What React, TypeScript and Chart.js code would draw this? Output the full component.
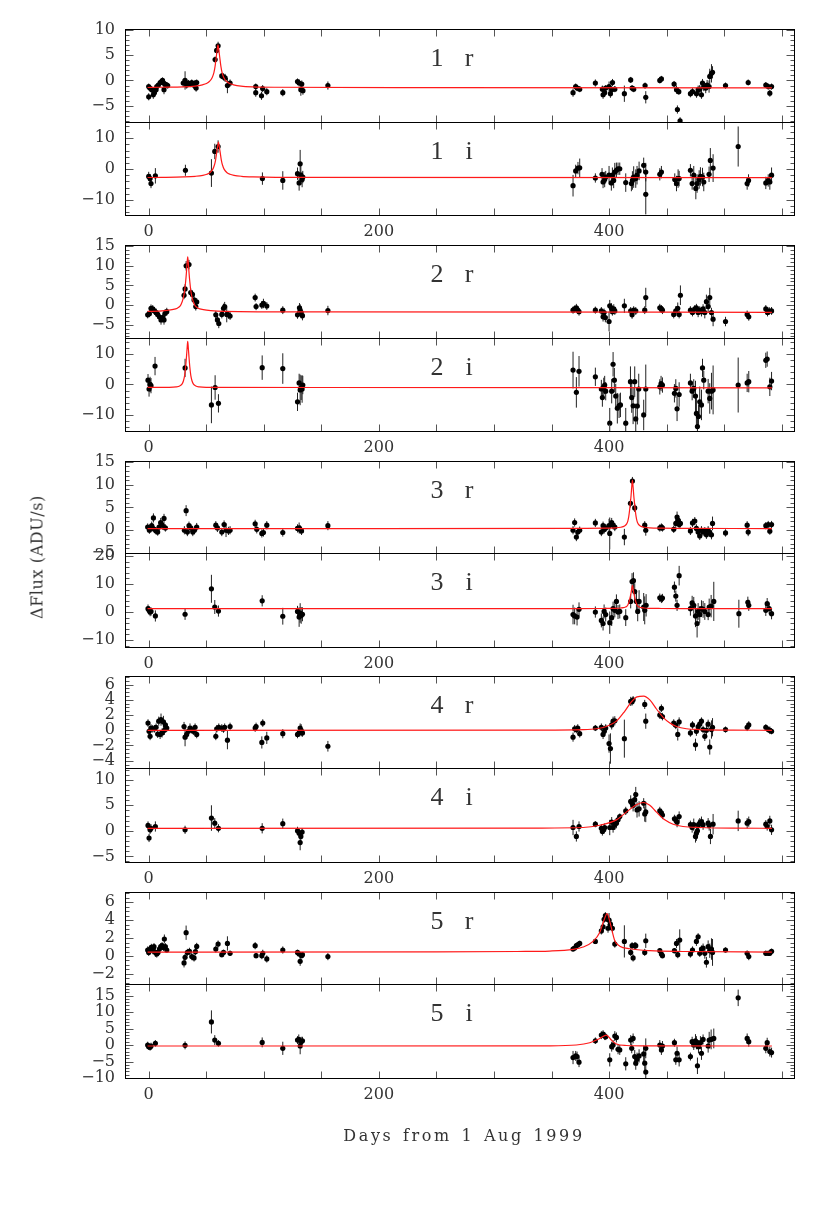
import React, { useEffect, useRef } from "react";
import { Chart, registerables } from "chart.js";

Chart.register(...registerables);

// ---------- observations: [day, deltaFlux, error] ----------
const obs1r: number[][] = [
  [0,-1.2,0.6],[0,-3.2,0.7],[1,-1.5,0.6],[2.6,-1.8,0.7],[4,-2.8,0.8],[5,-2.4,0.7],[6.4,-1.8,0.6],[7,-1.2,0.6],[8.4,-0.9,0.6],[10,-0.4,0.6],[11.3,-0.2,0.6],[12,0,0.6],[12.8,-0.5,0.7],[13.3,-1.8,0.9],[14.2,-0.7,0.6],[15.6,-0.9,0.6],[16.5,-1.0,0.6],
  [30,-0.5,0.8],[31.6,0,1.8],[33,-0.9,0.7],[34.5,-0.5,0.6],[36,-0.7,0.6],[37.4,-0.4,0.6],[39,-0.9,0.7],[40.3,-0.5,0.6],[41.2,-1.5,0.7],[41.7,-0.4,0.6],
  [57.7,4.1,0.6],[59,5.9,0.7],[60.3,6.8,0.8],[63.5,0.9,0.6],[65,0.7,0.7],[66.4,0.5,0.8],[68.4,-1.0,1.5],[70.7,-0.5,0.7],
  [93,-1.2,0.6],[93,-2.4,0.8],[98,-3.0,0.8],[99,-1.6,0.7],[102.6,-2.2,0.7],[116.5,-2.4,0.7],[129.3,-0.2,0.6],[130.7,-0.5,0.7],[132.2,-1.8,1.2],[133,-0.7,0.7],[134,-2.0,0.8],[155.7,-1.0,0.8],
  [368.7,-2.4,0.8],[371,-1.2,0.6],[372.2,-1.5,0.6],[374.5,-1.7,0.6],[388.1,-0.5,0.7],[394.2,-1.7,0.7],[394.8,-2.8,0.8],[396.2,-2.4,0.7],[397.1,-1.5,0.6],[400,-1.2,1.0],[401.2,-2.6,0.8],[402.3,-1.8,0.7],[403,-0.4,0.7],[405,-1.7,0.6],[413.3,-2.6,1.6],[418.8,0.1,0.6],[420,-1.5,0.6],[421.4,-1.7,0.6],[431.3,-1.0,0.6],[431.9,-3.3,1.2],[444.1,0,0.6],[445.5,0.3,0.6],[456.5,-0.7,0.6],[458.6,-1.8,0.8],[459.4,-5.7,0.8],[460.6,-2.2,0.6],[461.7,-7.9,0.7],[470.7,-2.6,0.7],[472.5,-2.2,0.7],[476,-2.6,0.8],[477.4,-1.8,0.8],[478.8,-1.7,0.8],[480.3,-2.8,0.8],[481.2,-0.5,0.8],[482.3,-1.2,0.9],[484,-1.5,1.0],[485.2,-0.9,1.0],[486.9,-1.2,1.2],[487.5,0.8,1.5],[489,1.4,1.8],[489.9,1.6,1.2],[501.2,-1.0,0.6],[520.9,-0.4,0.6],[536.2,-0.9,0.6],[538.3,-1.2,0.6],[539.7,-2.5,0.7],[541.2,-1.2,0.6],
];
const obs1i: number[][] = [
  [0,-2.4,1.5],[1.2,-3.1,1.5],[2,-4.7,1.5],[5.8,-2.2,2.5],[31.9,-0.4,1.8],[54.5,-1.3,4.5],[57.4,5.7,2.5],[60.3,7.3,2.0],[98.8,-3.1,2.0],[116.5,-3.7,3.0],[129.3,-1.5,2.0],[130.7,-4.5,2.5],[131.6,1.7,4.5],[132.2,-2.0,3.0],[133.3,-3.4,2.5],[133.9,-2.6,2.0],
  [368.7,-5.4,3.5],[371,-0.6,2.0],[373,0.3,2.0],[374.5,0.4,3.0],[388.1,-2.9,1.5],[393.9,-1.7,2.0],[394.8,-4.2,2.0],[396.2,-3.4,2.5],[397.1,-2.6,2.0],[400,-2.0,3.0],[402,-4.5,2.5],[402.9,-2.0,2.5],[404,-3.7,2.5],[405,-1.0,3.0],[406.4,-0.4,2.5],[407.8,0.1,2.0],[409.3,0.1,2.0],[414.5,-4.4,3.0],[419.4,-4.7,2.5],[420.3,-3.7,3.0],[421.4,-2.6,3.5],[423.2,-3.1,3.0],[424.3,-2.0,3.0],[426.1,-0.6,3.0],[430.1,1.2,2.5],[431.9,-1.0,3.0],[431.9,-8.2,6.5],[444.1,-1.7,2.0],[445.5,-1.0,2.0],[457.1,-3.4,2.0],[458.6,-4.7,2.5],[460,-3.1,3.0],[460.9,-3.1,2.5],[470.7,-0.4,2.0],[472.2,-4.7,2.0],[473.6,-2.0,3.0],[475.4,-6.3,3.5],[476.5,-4.7,3.0],[478.3,-3.4,3.0],[479.4,-2.4,3.0],[481.2,-2.6,3.0],[482.3,-4.2,3.0],[486.9,-1.7,2.5],[488,2.8,4.0],[490.4,0.3,4.5],[512.2,7.3,6.5],[520,-4.7,2.0],[521.2,-3.7,2.0],[536.2,-4.5,2.0],[538.3,-3.7,2.0],[539.7,-4.2,2.5],[541.2,-2.0,2.5],
];
const obs2r: number[][] = [
  [-0.9,-2.5,0.9],[0.6,-2.2,0.9],[2,-0.85,1.0],[3.5,-1.0,1.0],[5,-1.5,1.0],[6.4,-1.9,1.0],[7.8,-2.4,1.0],[9.3,-3.0,1.0],[10.7,-3.8,1.2],[12.2,-3.2,1.0],[13.3,-3.8,1.2],[14.2,-2.1,1.0],[15.7,-1.7,1.0],
  [30.7,2.5,1.0],[31.6,4.1,1.2],[32.5,10,1.2],[35,10.3,1.2],[36.5,3.2,1.0],[38,2.7,1.0],[39.4,1.3,1.0],[40.9,-0.4,1.0],[41.7,0.8,1.0],
  [58.3,-2.5,1.0],[59.7,-3.8,1.0],[60.9,-4.7,1.2],[63.5,-2.4,1.0],[65,-0.85,1.2],[66,-0.4,1.2],[67.8,-2.4,2.0],[69.3,-2.5,1.0],[70.7,-2.8,1.0],
  [92.5,1.9,1.0],[93.3,-0.4,0.9],[98.3,0,1.0],[99.7,0.4,1.2],[102.6,-0.25,1.0],[116.5,-1.3,1.0],[129.3,-2.5,1.0],[131,-0.7,1.2],[131.6,-1.3,1.5],[132.5,-1.9,1.5],[133.6,-2.7,1.2],[155.7,-1.4,1.2],
  [368.7,-1.3,0.9],[370.1,-1.0,0.9],[371.6,-0.7,1.0],[372.8,-1.3,1.0],[373.9,-1.7,1.0],[388.1,-1.3,0.9],[393.3,-1.5,1.0],[394.8,-3.0,1.2],[395.7,-1.9,1.0],[396.8,-3.2,1.2],[400,-4.2,2.5],[400.6,-0.2,1.5],[402,-0.7,1.2],[402.9,-1.7,1.0],[404.1,-1.0,1.2],[405,-1.5,1.0],[413.3,-0.2,1.8],[418.8,-1.5,1.0],[420,-2.5,1.0],[421.4,-1.3,1.0],[423.2,-1.5,1.0],[431,-1.3,1.0],[431.9,1.9,2.5],[444.1,-0.7,1.0],[445.5,-1.0,1.0],[446.4,-1.3,1.0],[456.2,-2.4,1.0],[458,-1.5,1.2],[459.7,-0.85,1.5],[460.9,-2.4,1.0],[462,2.5,2.5],[470.7,-1.3,1.0],[472.5,-1.9,1.0],[474.5,-1.0,1.0],[475.9,-0.7,1.0],[477.4,-1.9,1.2],[478.8,-1.3,1.0],[480.3,-1.7,1.2],[481.7,-1.0,1.2],[483.2,-1.9,1.5],[484.6,0.85,1.8],[486.1,-0.4,1.5],[487.5,1.9,2.5],[489,-1.9,1.2],[490.4,-3.6,1.8],[501.2,-4.2,1.2],[520,-2.4,1.0],[521.4,-3.0,1.0],[536.2,-1.0,1.0],[537.7,-1.9,1.0],[539.1,-1.5,1.0],[541.2,-1.5,1.0],
];
const obs2i: number[][] = [
  [-0.6,1.4,2.0],[0.3,-1.5,2.5],[1.2,0,2.5],[2,-0.4,2.5],[5.5,6.0,3.0],[31.6,5.4,3.0],[54.5,-6.7,6.0],[57.7,-1.0,4.0],[60.6,-6.2,3.0],[98.6,5.5,4.0],[116.5,5.2,5.0],[129.3,-5.7,3.0],[130.7,0.5,3.0],[131.6,-1.8,5.0],[132.5,-1.1,4.0],[133.3,-1.5,4.5],[133.9,-0.2,3.0],
  [368.7,4.7,6.0],[371.6,-2.6,5.0],[373.9,4.3,5.0],[388.1,2.5,3.0],[393.3,-1.5,3.0],[394.2,-4.3,3.0],[395.4,-0.8,3.0],[396.2,-0.2,3.0],[397.1,-2.2,3.0],[400.6,-12.7,5.0],[402.3,-2.2,4.0],[403.5,6.6,4.0],[404.6,1.4,4.0],[405.8,-3.8,4.0],[407.2,-7.8,5.0],[408.7,-7.0,4.0],[409.9,-6.7,4.0],[414.5,-12.7,5.0],[418.6,0.9,5.0],[419.7,-4.3,5.0],[420.9,-7.0,6.0],[422.3,0.9,5.0],[423.2,-11.3,5.0],[424.6,-7.1,6.0],[425.8,-1.5,5.0],[430.1,-10,5.0],[431.9,-1.5,8.0],[444.1,-0.8,2.5],[445.2,0.3,2.5],[446.4,-0.2,2.5],[456.8,-2.9,3.0],[458,-1.3,3.0],[459.1,-8.0,4.0],[460.9,-3.3,4.0],[470.7,0.5,3.0],[472.2,-2.2,3.0],[473.6,-1.3,3.0],[475.1,-3.8,5.0],[475.9,-9.5,5.0],[476.8,-13.8,4.0],[477.7,-10.5,4.0],[478.8,-5.7,5.0],[480.3,-6.7,5.0],[481.2,5.4,3.0],[482.3,1.4,3.0],[486.1,-2.2,4.0],[487.5,-4.6,5.0],[489,-2.2,6.0],[490.4,-1.8,8.0],[512.2,-0.2,9.0],[520,0.5,3.0],[521.4,0.9,3.5],[536.2,7.9,2.5],[537.4,8.3,2.5],[539.7,-0.8,3.0],[541.2,1.1,3.0],
];
const obs3r: number[][] = [
  [-0.9,0.7,0.8],[0.6,0,0.8],[1.4,0.5,0.8],[2.6,1.0,0.9],[4.1,2.7,1.0],[4.9,0.2,0.8],[6.4,-0.15,0.8],[7.8,-0.4,0.8],[9,0.7,0.9],[10.4,1.7,1.0],[11.9,1.1,1.0],[13.3,2.6,1.0],[14.5,0.5,0.8],
  [31,0,0.9],[32.5,4.3,1.2],[33.6,-0.4,0.9],[35,1.0,0.9],[36.5,0.5,0.9],[38.3,-0.4,0.9],[39.7,0,0.9],[41.7,0.7,0.9],
  [58.3,1.1,0.9],[59.7,0.5,0.9],[63.5,-0.4,0.9],[65.5,1.25,0.9],[67.2,0,1.5],[69.3,-0.15,0.9],[70.7,0,0.9],
  [92.5,1.4,0.9],[93.9,0.2,0.9],[98.3,-0.7,0.9],[99.7,-0.5,0.9],[102.6,1.1,0.9],[116.5,-0.5,0.9],[129.3,0.4,0.9],[130.7,0.5,1.2],[131.6,0.15,0.9],[132.8,-0.15,0.9],[155.7,1.0,1.0],
  [368.7,0,0.9],[370.1,1.7,0.9],[371.6,-1.5,0.9],[372.8,-0.4,0.9],[374.5,0,0.8],[388.1,1.6,0.9],[393.3,-0.4,0.9],[394.8,1.0,0.9],[395.9,0.2,0.9],[397.1,0.5,0.9],[400,1.0,1.5],[400.6,-0.7,3.5],[402.3,1.7,1.0],[403.5,1.1,0.9],[405,0.7,0.9],[413.3,-1.5,1.8],[418.6,5.9,0.9],[420.3,10.8,0.9],[422.3,4.9,0.9],[431,1.1,0.9],[431.9,0,1.2],[444.1,0.5,0.8],[445.5,0.7,0.8],[446.4,0.5,0.8],[456.2,0.2,0.8],[458,1.5,1.0],[459.1,2.9,1.2],[460,2.2,1.0],[460.9,1.25,1.0],[462,1.5,0.9],[470.7,-0.15,0.9],[472.5,1.6,0.9],[474.5,2.0,0.9],[475.9,0.4,0.9],[477.4,-0.4,0.9],[478.8,-1.25,0.9],[480.3,0,0.9],[481.7,-0.4,0.9],[483.2,-0.2,0.9],[484.6,-1.0,0.9],[486.1,0,0.9],[487.5,-0.5,1.0],[489,-1.0,1.0],[489.9,1.5,1.5],[501.2,-0.6,0.8],[520,1.1,0.9],[520.9,-0.4,0.9],[536.2,1.0,0.8],[538.3,1.25,0.8],[539.7,-0.2,0.8],[541.2,1.25,0.8],
];
const obs3i: number[][] = [
  [-0.6,1.2,1.5],[0.3,0.6,1.5],[1.2,0,1.5],[2,0.2,1.5],[5.8,-1.4,2.0],[31.6,-0.8,2.0],[54.5,8.3,5.0],[57.4,1.8,2.5],[60.6,0.35,2.0],[98.6,4.0,2.0],[116.5,-1.5,3.0],[129.3,0.2,2.0],[130.7,-1.8,3.5],[131.6,-0.35,3.5],[132.5,-1.2,3.0],[133.6,-0.8,2.5],
  [368.7,-0.9,3.5],[370.1,-1.4,3.0],[372.2,-1.8,3.0],[373.9,0.95,2.5],[388.1,0,2.0],[393.3,-3.0,2.5],[394.8,-4.1,2.5],[395.7,0.2,2.5],[397.1,-0.9,2.5],[400.6,-3.8,4.0],[402.3,-2.0,3.0],[403.5,1.2,2.5],[405,0.6,2.5],[406.4,3.8,2.5],[407.8,0,2.5],[409.3,0.2,2.5],[414.5,-2.0,3.0],[418.8,3.8,2.5],[420,10.9,3.0],[421.2,11.2,3.0],[422.3,7.3,3.0],[423.8,3.8,4.0],[424.9,0.2,3.5],[426.1,3.8,4.0],[430.1,1.8,5.0],[431,0.6,5.0],[432.2,2.4,4.0],[444.1,5.1,1.5],[445.5,4.7,1.5],[446.4,5.0,1.5],[456.8,8.9,2.0],[458,5.7,2.0],[459.1,2.4,2.0],[460.9,13.0,3.5],[470.7,1.2,2.5],[472.2,3.3,2.5],[473.6,2.4,3.0],[475.1,-1.4,4.0],[476.5,-4.1,5.0],[477.4,0.2,3.0],[478.8,-0.9,3.0],[480.3,1.2,3.0],[481.7,0.95,3.0],[483.2,0.2,3.0],[486.1,-0.9,2.0],[487,1.8,3.0],[488.7,2.1,4.0],[491,3.8,7.0],[512.8,-0.6,5.0],[520.6,3.5,2.0],[521.4,2.4,2.0],[536.2,0.6,2.0],[537.4,3.0,2.0],[539.1,1.2,2.0],[541.2,-0.6,2.0],
];
const obs4r: number[][] = [
  [-0.6,0.95,0.5],[0.3,-0.13,0.5],[1.2,-0.8,0.5],[2,0.3,0.5],[3.5,0.2,0.5],[5,0.2,0.5],[6.4,0.4,0.5],[7.8,-0.5,0.5],[8.7,1.2,0.6],[9.9,-0.55,0.6],[10.7,1.4,0.8],[11.6,-0.35,0.6],[12.8,1.1,0.8],[13.6,0,0.6],[14.5,0.7,0.5],[15.7,0.3,0.5],
  [30.7,0.5,0.6],[31.6,-0.9,1.2],[33,-0.55,0.6],[34.5,-0.13,0.5],[35.9,0.3,0.6],[37.4,0.1,0.5],[38.8,-0.13,0.5],[40.3,0.4,0.5],[41.7,-0.55,0.5],
  [58.3,-0.8,0.5],[59.1,0.2,0.5],[60.9,0.4,0.5],[63.5,0.3,0.5],[65,0.17,0.5],[66,0.4,0.5],[68.4,-1.3,1.2],[70.7,0.5,0.5],
  [92.5,0.3,0.5],[93.3,0.5,0.5],[98.3,-1.6,0.8],[99.1,0.95,0.5],[102.6,-1.0,0.8],[116.5,-0.45,0.6],[129.3,-0.55,0.5],[130.7,-0.35,0.5],[131.6,0.3,0.6],[132.5,0,0.8],[133.6,-0.35,0.5],[155.7,-2.1,0.7],
  [368.7,-0.9,0.6],[370.1,0.2,0.5],[371.6,0.1,0.5],[372.8,0.3,0.5],[374.5,-0.45,0.5],[388.1,0.3,0.4],[393.3,0.4,0.5],[394.8,-0.55,0.6],[395.9,-0.13,0.5],[397.1,0.3,0.5],[400,-1.75,1.2],[401.2,-2.4,2.0],[402.3,0.7,0.6],[403.5,1.2,0.6],[405,1.25,0.6],[413.3,-1.1,2.5],[418.8,3.8,0.6],[420,3.75,0.5],[420.9,4.0,0.5],[431,3.4,0.6],[431.9,1.2,1.0],[444.1,2.0,0.5],[445.5,2.9,0.5],[446.4,1.8,0.5],[456.2,0.95,0.5],[458,0.65,0.5],[459.7,-0.55,0.8],[460.9,1.1,0.6],[470.7,-0.35,0.5],[472.5,0.7,0.5],[475.1,-1.9,0.8],[475.9,-0.13,0.6],[477.4,0.5,0.5],[478.8,0.8,0.6],[480.3,1.2,0.5],[481.7,0.1,0.5],[483.2,-0.8,0.6],[484.6,0,0.8],[486.1,0.8,0.6],[487.5,-2.2,1.0],[489,0.1,1.2],[489.9,0.4,1.2],[501.2,0.1,0.4],[520,0.4,0.5],[521.4,0.7,0.5],[536.2,0.4,0.4],[538.3,0.1,0.4],[539.7,0,0.5],[541.2,-0.13,0.4],
];
const obs4i: number[][] = [
  [-0.6,1.05,0.8],[0.3,-1.4,0.8],[1.2,0.2,0.8],[2,0.5,0.8],[5.8,0.85,1.0],[31.6,0.2,0.8],[54.5,2.5,2.5],[57.4,1.5,1.0],[60.6,0.5,0.8],[98.6,0.5,1.0],[116.5,1.4,1.0],[129.3,0,0.8],[130.7,-0.45,0.8],[131.6,-2.3,1.5],[132.2,-1.1,1.0],[133.3,-0.25,0.8],
  [368.7,0.65,1.5],[371.6,-1.1,1.0],[373.9,0.85,1.0],[388.1,1.3,0.6],[393.3,0.5,0.8],[394.2,-0.13,0.8],[395.4,0.2,0.8],[396.2,0.65,0.8],[400.6,0.65,1.5],[402.3,1.7,1.0],[403.5,0.65,1.0],[405,1.2,1.0],[406.4,1.5,1.0],[407.8,2.15,0.8],[409.3,2.8,0.6],[414.5,3.9,0.8],[418.8,5.75,1.2],[420,5.4,1.0],[420.9,5.0,1.2],[422.3,6.1,1.5],[423.2,7.1,1.5],[424.3,4.1,1.5],[426.1,4.3,1.5],[430.1,5.4,1.0],[431,3.3,1.5],[431.9,3.7,2.0],[444.1,3.9,0.8],[445.5,3.5,0.8],[446.4,3.1,0.8],[456.8,2.35,0.8],[458,2.15,0.8],[459.1,1.7,1.0],[460.9,2.8,1.0],[470.7,1.2,0.8],[472.2,0.65,1.0],[473.6,1.2,1.2],[475.1,-1.1,1.2],[475.9,-0.45,1.5],[476.8,0,1.5],[477.7,1.2,1.0],[478.8,1.5,1.0],[480.3,1.8,1.0],[481.7,1.2,1.0],[486.1,1.5,1.0],[487,1.05,1.0],[488.1,-1.1,1.5],[490.4,1.3,2.0],[512.2,1.95,2.0],[520,1.5,1.0],[521.4,1.8,1.0],[536.2,1.3,0.8],[537.4,0.85,0.8],[539.7,1.95,1.0],[541.2,0.2,1.0],
];
const obs5r: number[][] = [
  [-0.9,0.67,0.4],[0,0.4,0.4],[1.2,0.78,0.4],[2.3,0.96,0.4],[3.5,0.6,0.4],[4.6,1.04,0.4],[5.8,0.4,0.5],[7,0.22,0.4],[8.1,0.4,0.4],[9.3,0.78,0.4],[10.4,1.04,0.4],[11.6,1.15,0.4],[12.8,0.96,0.4],[13.6,1.9,0.5],[14.5,1.04,0.4],[15.7,0.67,0.3],
  [30.7,-0.78,0.5],[31.6,-0.15,0.4],[32.5,2.6,0.8],[33.6,0.4,0.4],[35.4,0.52,0.4],[37.4,-0.07,0.4],[39.4,-0.22,0.4],[40.6,0.48,0.4],[41.7,1.07,0.4],
  [58.3,0.78,0.4],[60.3,1.33,0.4],[63.5,0.15,0.3],[65,0.4,0.3],[68.4,1.4,0.8],[70.7,0.3,0.3],
  [92.5,1.15,0.4],[93.3,0.04,0.3],[98.3,0.04,0.4],[99.1,0.3,0.4],[102.6,-0.33,0.4],[116.5,0.67,0.4],[129.3,0.4,0.3],[130.7,0.22,0.3],[131.6,-0.6,0.5],[132.8,0.04,0.3],[133.6,0.15,0.3],[155.7,-0.07,0.4],
  [368.7,0.78,0.3],[370.1,0.89,0.3],[371.6,1.15,0.3],[373,1.26,0.3],[374.5,1.4,0.3],[388.1,1.63,0.3],[393.3,2.8,0.4],[394.8,3.26,0.5],[395.7,4.1,0.4],[396.8,4.5,0.4],[397.7,4.2,0.4],[399.1,3.1,0.5],[400,4.0,0.8],[401.2,3.56,0.5],[402.9,3.1,0.5],[405,1.33,0.4],[413.3,1.63,1.8],[418.8,0.4,0.4],[420,1.15,0.4],[420.9,-0.22,0.4],[422.3,1.15,0.4],[423.2,1.15,0.4],[431,0.4,0.4],[431.9,1.7,0.8],[444.1,0.59,0.3],[445.5,0.22,0.3],[446.4,0.04,0.3],[456.8,0.59,0.3],[458.6,1.4,0.5],[459.7,0.15,0.4],[461.4,1.78,1.2],[470.7,0.22,0.4],[472.5,0.67,0.4],[475.9,1.63,0.5],[477.4,2.15,0.4],[478.8,0.3,0.4],[480.3,0.78,0.4],[481.7,0.89,0.5],[483.2,0.3,0.6],[484.6,-0.7,0.6],[486.1,1.04,0.7],[487.5,0.59,0.8],[489,0.78,1.2],[489.9,0.4,1.5],[501.2,0.67,0.3],[520,0.3,0.3],[521.4,-0.07,0.4],[536.2,0.3,0.3],[538.3,0.3,0.3],[539.7,0.3,0.3],[541.2,0.52,0.3],
];
const obs5i: number[][] = [
  [-0.9,0,1.0],[0,-0.5,1.0],[1.2,-0.7,1.0],[2,-0.3,1.0],[5.8,0.5,1.0],[31.6,-0.1,1.2],[54.5,7.0,3.5],[57.4,1.5,1.5],[60.6,0.5,1.0],[98.6,0.8,1.5],[116.5,-1.0,2.0],[129.3,1.5,1.2],[130.4,1.7,1.5],[131.6,-0.3,2.5],[132.5,1.0,1.5],[133.6,1.3,1.2],
  [368.7,-3.8,2.0],[371,-3.3,1.5],[372.2,-3.5,1.5],[373.9,-5.2,1.5],[388.1,1.3,1.0],[393.3,3.0,1.2],[394.8,3.3,1.2],[396.2,2.7,1.2],[397.1,2.5,1.0],[400.6,-4.5,2.0],[402.3,-0.5,1.5],[403.5,0,1.5],[405,2.7,1.5],[406.4,2.3,1.5],[407.8,-1.3,1.5],[409.3,-1.5,1.5],[414.5,-5.7,2.0],[418.8,1.5,1.5],[419.7,-1.0,1.5],[420.9,2.0,1.5],[422.3,-3.5,2.0],[423.2,-5.5,2.0],[424.3,-4.3,2.0],[426.1,-3.3,2.0],[430.1,-2.7,2.5],[431,-5.5,3.0],[431.9,-8.2,2.0],[431.9,-1.0,3.0],[444.1,0,1.5],[445.5,-1.5,1.5],[446.4,-0.3,1.5],[456.8,0.7,1.2],[458,-4.5,1.5],[459.1,-2.5,2.0],[460.9,-4.5,2.0],[470.7,-3.5,1.2],[472.2,1.0,1.5],[473.6,0,1.5],[475.1,1.3,2.0],[475.9,0.7,2.0],[476.8,-6.3,2.5],[477.7,-0.5,2.0],[479.4,0.7,2.0],[480.3,-2.5,2.0],[481.7,1.7,1.5],[486.1,-0.3,2.0],[487,1.5,2.5],[488.7,1.7,3.0],[491,2.0,3.0],[512.2,14.3,2.5],[520,2.0,1.5],[521.4,1.0,1.5],[536.2,-1.0,1.5],[537.4,0.7,1.5],[539.7,-2.0,1.5],[541.2,-2.3,1.5],
];

// ---------- model curves: [day, deltaFlux] ----------
const model1r: number[][] = [[-1,-1.38],[10.2,-1.33],[30.2,-1.25],[40.2,-1.1],[46.7,-0.85],[50.2,-0.6],[52.7,-0.2],[55.2,0.6],[56.7,1.6],[57.7,2.8],[58.7,4.6],[59.5,6.0],[60.2,7.0],[60.9,6.0],[61.7,4.6],[62.7,2.8],[63.7,1.6],[65.2,0.6],[67.7,-0.2],[70.2,-0.6],[73.7,-0.85],[80.2,-1.1],[90.2,-1.25],[110.2,-1.33],[250,-1.4],[541.5,-1.44]];
const model1i: number[][] = [[-1,-2.75],[10.6,-2.7],[30.6,-2.55],[40.6,-2.35],[47.1,-2.05],[50.6,-1.7],[53.1,-1.2],[55.6,-0.1],[57.1,1.3],[58.1,2.9],[59.1,5.4],[59.9,7.3],[60.6,8.7],[61.3,7.3],[62.1,5.4],[63.1,2.9],[64.1,1.3],[65.6,-0.1],[68.1,-1.2],[70.6,-1.7],[74.1,-2.05],[80.6,-2.35],[90.6,-2.55],[110.6,-2.7],[541.5,-2.8]];
const model2r: number[][] = [[-1,-1.62],[2.9,-1.6],[13.9,-1.4],[20.3,-1.15],[24.9,-0.8],[27.4,-0.2],[28.9,0.7],[30.2,2.0],[31.2,3.6],[32.1,6.0],[32.7,8.0],[33.3,10.5],[33.9,12.3],[34.5,10.5],[35.1,8.0],[35.7,6.0],[36.6,3.6],[37.6,2.0],[38.9,0.7],[40.4,-0.2],[42.9,-0.8],[47.5,-1.15],[53.9,-1.4],[64.9,-1.6],[150,-1.75],[541.5,-1.85]];
const model2i: number[][] = [[-1,-0.98],[17.9,-0.95],[23.9,-0.8],[26.9,-0.5],[28.9,0.1],[30.2,1.2],[31.2,2.9],[32.1,5.8],[32.7,8.5],[33.3,11.5],[33.9,14.1],[34.5,11.5],[35.1,8.5],[35.7,5.8],[36.6,2.9],[37.6,1.2],[38.9,0.1],[40.9,-0.5],[43.9,-0.8],[49.9,-0.95],[150,-1.0],[541.5,-1.1]];
const model3r: number[][] = [[-1,0.37],[200,0.37],[370.3,0.4],[395.3,0.44],[405.3,0.52],[410.3,0.66],[412.3,0.8],[414.3,1.1],[415.3,1.4],[416.3,2.0],[417.1,3.0],[417.8,4.3],[418.5,6.0],[419.1,7.5],[419.7,9.5],[420.3,11.0],[420.9,9.5],[421.5,7.5],[422.1,6.0],[422.8,4.3],[423.5,3.0],[424.3,2.0],[425.3,1.4],[426.3,1.1],[428.3,0.8],[430.3,0.66],[435.3,0.52],[445.3,0.44],[470.3,0.4],[541.5,0.37]];
const model3i: number[][] = [[-1,1.2],[370.3,1.23],[395.3,1.27],[405.3,1.33],[410.3,1.45],[412.3,1.55],[414.3,1.8],[415.3,2.0],[416.3,2.5],[417.1,3.3],[417.8,4.3],[418.5,5.6],[419.1,6.8],[419.7,8.3],[420.3,9.5],[420.9,8.3],[421.5,6.8],[422.1,5.6],[422.8,4.3],[423.5,3.3],[424.3,2.5],[425.3,2.0],[426.3,1.8],[428.3,1.55],[430.3,1.45],[435.3,1.33],[445.3,1.27],[470.3,1.23],[541.5,1.2]];
const model4r: number[][] = [[-1,0],[340,0.02],[377.4,0.08],[389,0.2],[397.7,0.5],[406.4,1.2],[413.6,2.5],[419.4,3.75],[424.3,4.4],[430.1,4.5],[435.4,4.0],[441.2,2.8],[447,1.7],[452.8,0.95],[458.6,0.5],[467.2,0.2],[478.8,0.1],[507.8,0.02],[541.5,0]];
const model4i: number[][] = [[-1,0.5],[340,0.55],[377.4,0.65],[391.9,1.1],[406.4,2.15],[415,3.66],[423.8,5.1],[430.1,5.55],[435.4,5.0],[441.2,3.66],[448.4,2.15],[455.7,1.3],[464.3,0.85],[478.8,0.65],[507.8,0.52],[541.5,0.5]];
const model5r: number[][] = [[-1,0.44],[250,0.46],[320,0.5],[348.4,0.55],[368.7,0.74],[377.4,1.0],[386.1,1.63],[391.9,2.63],[395.4,3.93],[398.3,4.74],[401.2,3.56],[405,1.7],[409.3,1.1],[418,0.81],[435.4,0.59],[464.3,0.5],[541.5,0.44]];
const model5i: number[][] = [[-1,-0.3],[348.4,-0.25],[371.6,0.0],[383.2,0.7],[391.9,2.0],[397.7,3.0],[402,1.5],[406.4,0.3],[415.1,-0.15],[435.4,-0.28],[541.5,-0.3]];

// ---------- axes ----------
const X_MIN = -20.6;
const X_MAX = 560.7;
const X_STEP = 50;
const X_TICK_LABELS = [0, 200, 400];
const X_TITLE = "Days from 1 Aug 1999";
const Y_TITLE = "\u0394Flux (ADU/s)";

type PanelSpec = {
  id: string;
  num: string;
  band: string;
  obs: number[][];
  model: number[][];
  yMin: number;
  yMax: number;
  yStep: number;
  yMinor: number;
  top: number;
  bottom: number;
  xLabels: boolean;
};

const PANELS: PanelSpec[] = [
  { id: "1r", num: "1", band: "r", obs: obs1r, model: model1r, yMin: -8.15, yMax: 10.1, yStep: 5, yMinor: 1, top: 29, bottom: 122, xLabels: false },
  { id: "1i", num: "1", band: "i", obs: obs1i, model: model1i, yMin: -14.9, yMax: 15.25, yStep: 10, yMinor: 2, top: 122, bottom: 215, xLabels: true },
  { id: "2r", num: "2", band: "r", obs: obs2r, model: model2r, yMin: -8.4, yMax: 15.3, yStep: 5, yMinor: 1, top: 245, bottom: 338, xLabels: false },
  { id: "2i", num: "2", band: "i", obs: obs2i, model: model2i, yMin: -15.25, yMax: 15.2, yStep: 10, yMinor: 2, top: 338, bottom: 431, xLabels: true },
  { id: "3r", num: "3", band: "r", obs: obs3r, model: model3r, yMin: -5.0, yMax: 15.2, yStep: 5, yMinor: 1, top: 461, bottom: 553, xLabels: false },
  { id: "3i", num: "3", band: "i", obs: obs3i, model: model3i, yMin: -12.5, yMax: 21.1, yStep: 10, yMinor: 2, top: 553, bottom: 647, xLabels: true },
  { id: "4r", num: "4", band: "r", obs: obs4r, model: model4r, yMin: -4.96, yMax: 7.14, yStep: 2, yMinor: 0.5, top: 676, bottom: 768, xLabels: false },
  { id: "4i", num: "4", band: "i", obs: obs4i, model: model4i, yMin: -6.1, yMax: 12.3, yStep: 5, yMinor: 1, top: 768, bottom: 862, xLabels: true },
  { id: "5r", num: "5", band: "r", obs: obs5r, model: model5r, yMin: -3.13, yMax: 7.15, yStep: 2, yMinor: 0.5, top: 892, bottom: 984, xLabels: false },
  { id: "5i", num: "5", band: "i", obs: obs5i, model: model5i, yMin: -10, yMax: 18.5, yStep: 5, yMinor: 1, top: 984, bottom: 1078, xLabels: true },
];

// ---------- layout ----------
const PAGE_W = 817;
const PAGE_H = 1219;
const PLOT_LEFT = 125;
const PLOT_RIGHT = 794;
const PAD_T = 24;
const PAD_B = 24;
const X_AXIS_H = 30;
const TICK_FONT = "'DejaVu Serif', 'Liberation Serif', serif";
const LABEL_FONT = "'Liberation Serif', 'DejaVu Serif', serif";

const fmt = (v: number) => (v < 0 ? "\u2212" + String(Math.abs(v)) : String(v));

const framePlugin = {
  id: "panelFrame",
  afterDraw(chart: any, _args: any, opts: any) {
    const { ctx, chartArea } = chart;
    const xs = chart.scales.x;
    const ys = chart.scales.y;
    const L = Math.round(chartArea.left) + 0.5;
    const R = Math.round(chartArea.right) + 0.5;
    const T = Math.round(chartArea.top) + 0.5;
    const B = Math.round(chartArea.bottom) + 0.5;
    ctx.save();
    ctx.lineWidth = 1;
    ctx.strokeStyle = "#555";
    ctx.beginPath();
    for (const t of xs.ticks) {
      const p = Math.round(xs.getPixelForValue(t.value)) + 0.5;
      ctx.moveTo(p, T); ctx.lineTo(p, T + 7);
      ctx.moveTo(p, B); ctx.lineTo(p, B - 7);
    }
    for (const t of ys.ticks) {
      const p = Math.round(ys.getPixelForValue(t.value)) + 0.5;
      ctx.moveTo(L, p); ctx.lineTo(L + 8, p);
      ctx.moveTo(R, p); ctx.lineTo(R - 8, p);
    }
    const m = opts.minor;
    const k0 = Math.ceil(ys.min / m - 1e-9);
    const k1 = Math.floor(ys.max / m + 1e-9);
    for (let k = k0; k <= k1; k++) {
      const v = k * m;
      const r = v / opts.major;
      if (Math.abs(r - Math.round(r)) < 1e-6) continue;
      const p = Math.round(ys.getPixelForValue(v)) + 0.5;
      ctx.moveTo(L, p); ctx.lineTo(L + 4, p);
      ctx.moveTo(R, p); ctx.lineTo(R - 4, p);
    }
    ctx.stroke();
    ctx.strokeStyle = "#000";
    ctx.strokeRect(L, T, R - L, B - T);
    ctx.restore();
  },
};

function Panel({ spec }: { spec: PanelSpec }) {
  const ref = useRef<HTMLCanvasElement | null>(null);
  const h = PAD_T + (spec.bottom - spec.top) + (spec.xLabels ? X_AXIS_H : 0) + PAD_B;

  useEffect(() => {
    const canvas = ref.current;
    if (!canvas) return;
    const errData: any[] = [];
    spec.obs.forEach(([x, y, e]) => {
      errData.push({ x, y: y - e }, { x, y: y + e }, { x, y: null });
    });
    const chart = new Chart(canvas, {
      type: "scatter",
      data: {
        datasets: [
          {
            data: spec.model.map(([x, y]) => ({ x, y })),
            showLine: true,
            borderColor: "#ff1a1a",
            borderWidth: 1.2,
            pointRadius: 0,
            cubicInterpolationMode: "monotone",
            order: 1,
          } as any,
          {
            data: spec.obs.map(([x, y]) => ({ x, y })),
            pointRadius: 2.6,
            pointBackgroundColor: "#000",
            pointBorderColor: "#000",
            pointBorderWidth: 0,
            order: 2,
          } as any,
          {
            data: errData,
            showLine: true,
            spanGaps: false,
            borderColor: "#222",
            borderWidth: 1,
            pointRadius: 0,
            order: 3,
          } as any,
        ],
      },
      options: {
        responsive: false,
        maintainAspectRatio: false,
        animation: false,
        devicePixelRatio: 1,
        events: [],
        layout: { padding: { top: PAD_T, bottom: PAD_B, left: 0, right: PAGE_W - PLOT_RIGHT } },
        plugins: {
          legend: { display: false },
          tooltip: { enabled: false },
          panelFrame: { minor: spec.yMinor, major: spec.yStep },
        } as any,
        scales: {
          x: {
            type: "linear",
            position: "bottom",
            min: X_MIN,
            max: X_MAX,
            grid: { display: false, drawTicks: false },
            border: { display: false },
            ticks: {
              display: spec.xLabels,
              stepSize: X_STEP,
              includeBounds: false,
              autoSkip: false,
              maxRotation: 0,
              minRotation: 0,
              padding: 7,
              color: "#333",
              font: { family: TICK_FONT, size: 16 },
              callback: (v: any) => (X_TICK_LABELS.includes(Number(v)) ? String(v) : ""),
            },
            afterFit: (s: any) => {
              s.height = spec.xLabels ? X_AXIS_H : 0;
            },
          },
          y: {
            type: "linear",
            position: "left",
            min: spec.yMin,
            max: spec.yMax,
            grid: { display: false, drawTicks: false },
            border: { display: false },
            ticks: {
              stepSize: spec.yStep,
              includeBounds: false,
              autoSkip: false,
              padding: 10,
              color: "#333",
              font: { family: TICK_FONT, size: 16 },
              callback: (v: any) => fmt(Number(v)),
            },
            afterFit: (s: any) => {
              s.width = PLOT_LEFT;
            },
          },
        } as any,
      },
      plugins: [framePlugin as any],
    });
    return () => chart.destroy();
  }, [spec]);

  return (
    <canvas
      ref={ref}
      width={PAGE_W}
      height={h}
      style={{ position: "absolute", left: 0, top: spec.top - PAD_T, width: PAGE_W, height: h }}
    />
  );
}

export default function App() {
  return (
    <div style={{ position: "absolute", left: 0, top: 0, width: PAGE_W, height: PAGE_H, background: "#fff", overflow: "hidden" }}>
      {PANELS.map((p) => (
        <Panel key={p.id} spec={p} />
      ))}
      {PANELS.map((p) => (
        <React.Fragment key={"lab" + p.id}>
          <div style={{ position: "absolute", left: 437, top: p.top + 16, transform: "translateX(-50%)", fontFamily: LABEL_FONT, fontSize: 26, lineHeight: "26px", color: "#333", whiteSpace: "nowrap" }}>
            {p.num}
          </div>
          <div style={{ position: "absolute", left: 469, top: p.top + 16, transform: "translateX(-50%)", fontFamily: LABEL_FONT, fontSize: 26, lineHeight: "26px", color: "#333", whiteSpace: "nowrap" }}>
            {p.band}
          </div>
        </React.Fragment>
      ))}
      <div style={{ position: "absolute", left: 37, top: 557, transform: "translate(-50%, -50%) rotate(-90deg)", fontFamily: TICK_FONT, fontSize: 16, letterSpacing: "0.6px", color: "#333", whiteSpace: "nowrap" }}>
        {Y_TITLE}
      </div>
      <div style={{ position: "absolute", left: 464, top: 1135, transform: "translate(-50%, -50%)", fontFamily: TICK_FONT, fontSize: 16, letterSpacing: "2.6px", wordSpacing: "2px", color: "#333", whiteSpace: "nowrap" }}>
        {X_TITLE}
      </div>
    </div>
  );
}
